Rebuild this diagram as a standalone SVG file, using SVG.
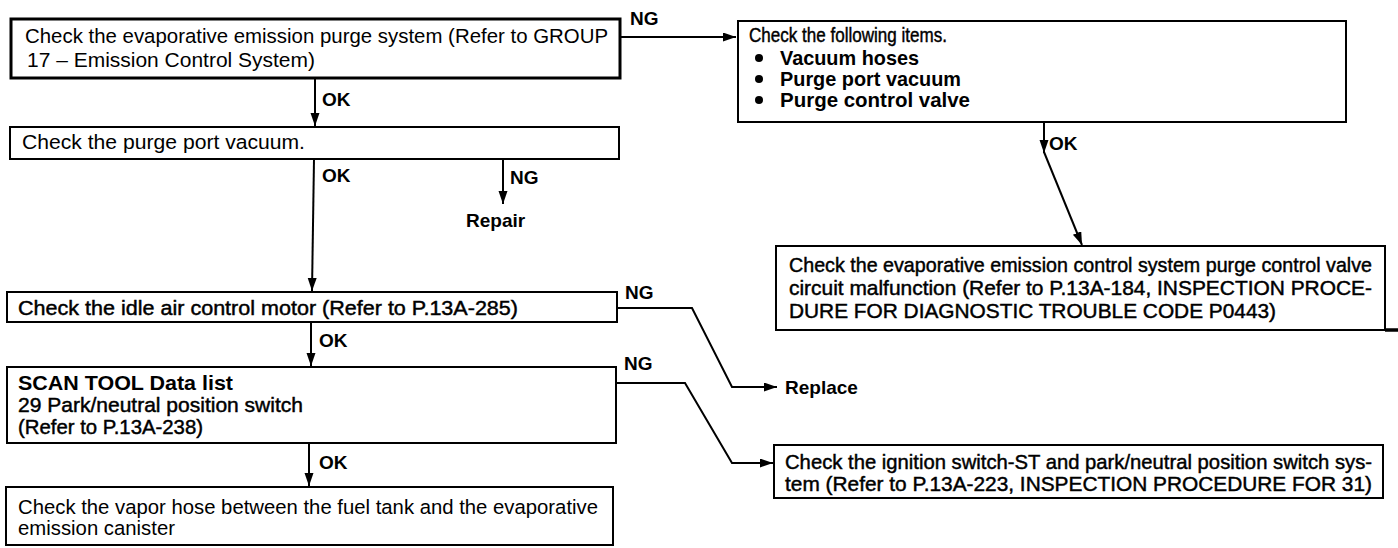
<svg xmlns="http://www.w3.org/2000/svg" width="1398" height="548" viewBox="0 0 1398 548">
<defs>
<style>
.t{font-family:"Liberation Sans",Arial,Helvetica,sans-serif;font-size:20.5px;fill:#000}
.m{stroke:#000;stroke-width:0.45}
.b{font-weight:bold}
.lbl{font-family:"Liberation Sans",Arial,Helvetica,sans-serif;font-size:19px;font-weight:bold;fill:#000}
.box{fill:#fff;stroke:#000;stroke-width:2}
.thick{stroke-width:3}
.c{fill:none;stroke:#000;stroke-width:2}
</style>
<marker id="ah" markerUnits="userSpaceOnUse" markerWidth="14" markerHeight="10" refX="13" refY="4.5" orient="auto">
<path d="M0,0 L13,4.5 L0,9 z" fill="#000"/>
</marker>
</defs>
<rect width="1398" height="548" fill="#fff"/>

<g id="connectors">
<path class="c" d="M620,37 H736" marker-end="url(#ah)"/>
<path class="c" d="M315,78 V126" marker-end="url(#ah)"/>
<path class="c" d="M314,159 L312,291" marker-end="url(#ah)"/>
<path class="c" d="M503,159 V204" marker-end="url(#ah)"/>
<path class="c" d="M1044,122 V153" marker-end="url(#ah)"/>
<path class="c" d="M1044,152 L1082,245" marker-end="url(#ah)"/>
<path class="c" d="M617,308 H692 L732,387 H777" marker-end="url(#ah)"/>
<path class="c" d="M311,322 V366" marker-end="url(#ah)"/>
<path class="c" d="M616,383 H685 L732,463 H773" marker-end="url(#ah)"/>
<path class="c" d="M309,443 V486" marker-end="url(#ah)"/>
<text class="lbl" x="630" y="25">NG</text>
<text class="lbl" x="322" y="106">OK</text>
<text class="lbl" x="322" y="182">OK</text>
<text class="lbl" x="510" y="184">NG</text>
<text class="lbl" x="1049" y="150">OK</text>
<text class="lbl" x="625" y="299">NG</text>
<text class="lbl" x="624" y="370">NG</text>
<text class="lbl" x="319" y="347">OK</text>
<text class="lbl" x="319" y="469">OK</text>
</g>

<g id="n1">
<rect class="box thick" x="11" y="19" width="609" height="59"/>
<text class="t" x="25" y="43" textLength="583" lengthAdjust="spacingAndGlyphs">Check the evaporative emission purge system (Refer to GROUP</text>
<text class="t" x="27" y="67" textLength="288" lengthAdjust="spacingAndGlyphs">17 – Emission Control System)</text>
</g>

<g id="n2">
<rect class="box" x="10" y="127" width="609" height="32"/>
<text class="t" x="22" y="149" textLength="283" lengthAdjust="spacingAndGlyphs">Check the purge port vacuum.</text>
</g>

<g id="n3">
<text class="lbl" x="466" y="227">Repair</text>
</g>

<g id="n4">
<rect class="box" x="738" y="21" width="608" height="101"/>
<text class="t m" x="749" y="42" font-size="19.5" textLength="198" lengthAdjust="spacingAndGlyphs">Check the following items.</text>
<circle cx="759" cy="58" r="4"/>
<circle cx="759" cy="79" r="4"/>
<circle cx="759" cy="100" r="4"/>
<text class="t b" x="780" y="65" font-size="20" textLength="139" lengthAdjust="spacingAndGlyphs">Vacuum hoses</text>
<text class="t b" x="780" y="86" font-size="20" textLength="181" lengthAdjust="spacingAndGlyphs">Purge port vacuum</text>
<text class="t b" x="780" y="107" font-size="20" textLength="190" lengthAdjust="spacingAndGlyphs">Purge control valve</text>
</g>

<g id="n5">
<rect class="box" x="776" y="246" width="609" height="84" stroke-width="3.5"/>
<path d="M1385,330 H1398" stroke="#000" stroke-width="3.5"/>
<text class="t m" x="789" y="272" textLength="583" lengthAdjust="spacingAndGlyphs">Check the evaporative emission control system purge control valve</text>
<text class="t m" x="789" y="295" textLength="583" lengthAdjust="spacingAndGlyphs">circuit malfunction (Refer to P.13A-184, INSPECTION PROCE-</text>
<text class="t m" x="789" y="318" textLength="487" lengthAdjust="spacingAndGlyphs">DURE FOR DIAGNOSTIC TROUBLE CODE P0443)</text>
</g>

<g id="n6">
<rect class="box" x="7" y="292" width="610" height="30"/>
<text class="t m" x="18" y="315" textLength="500" lengthAdjust="spacingAndGlyphs">Check the idle air control motor (Refer to P.13A-285)</text>
</g>

<g id="n7">
<text class="lbl" x="785" y="394">Replace</text>
</g>

<g id="n8">
<rect class="box" x="7" y="367" width="609" height="76"/>
<text class="t b" x="18" y="390" textLength="215" lengthAdjust="spacingAndGlyphs">SCAN TOOL Data list</text>
<text class="t m" x="18" y="412" textLength="285" lengthAdjust="spacingAndGlyphs">29 Park/neutral position switch</text>
<text class="t m" x="18" y="434" textLength="185" lengthAdjust="spacingAndGlyphs">(Refer to P.13A-238)</text>
</g>

<g id="n9">
<rect class="box" x="774" y="445" width="609" height="53" stroke-width="3"/>
<text class="t m" x="785" y="469" textLength="587" lengthAdjust="spacingAndGlyphs">Check the ignition switch-ST and park/neutral position switch sys-</text>
<text class="t m" x="785" y="491" textLength="587" lengthAdjust="spacingAndGlyphs">tem (Refer to P.13A-223, INSPECTION PROCEDURE FOR 31)</text>
</g>

<g id="n10">
<rect class="box" x="6" y="487" width="607" height="58" stroke-width="2.5"/>
<text class="t" x="18" y="514" textLength="580" lengthAdjust="spacingAndGlyphs">Check the vapor hose between the fuel tank and the evaporative</text>
<text class="t" x="18" y="535" textLength="157" lengthAdjust="spacingAndGlyphs">emission canister</text>
</g>
</svg>
